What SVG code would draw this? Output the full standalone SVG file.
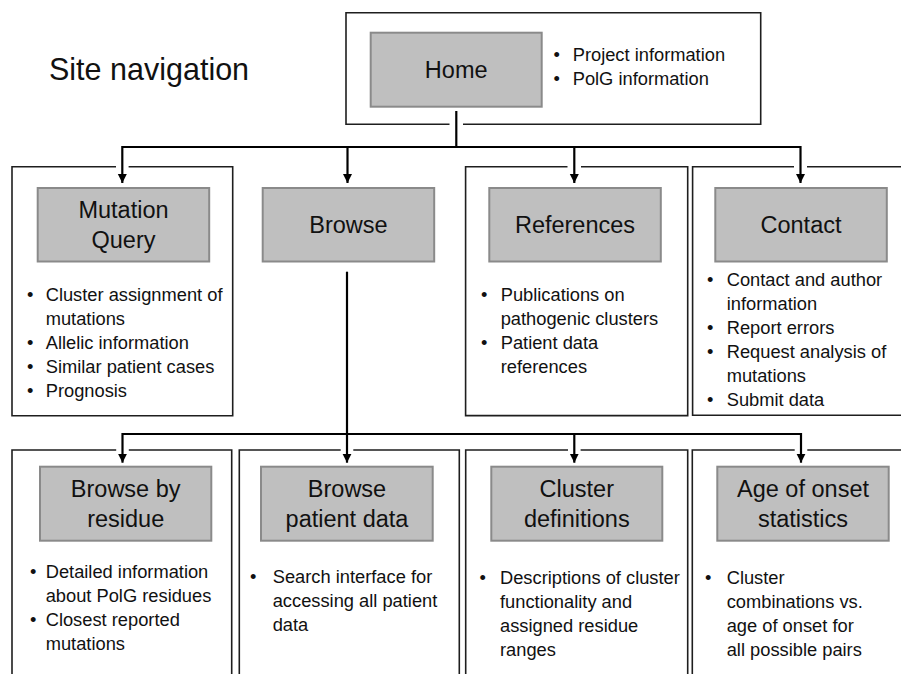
<svg xmlns="http://www.w3.org/2000/svg" width="901" height="674" viewBox="0 0 901 674">
<style>
.frame{fill:none;stroke:#1e1e1e;stroke-width:1.6}
.page{fill:#bfbfbf;stroke:#8a8a8a;stroke-width:2}
.head{font-family:"Liberation Sans",Arial,sans-serif;font-size:23.5px;fill:#111;text-anchor:middle}
.body{font-family:"Liberation Sans",Arial,sans-serif;font-size:18.3px;fill:#111}
.title{font-family:"Liberation Sans",Arial,sans-serif;font-size:30.5px;fill:#111}
.conn{fill:none;stroke:#000;stroke-width:2.2}
</style>
<defs>
<marker id="arr" viewBox="0 0 10 10" refX="10" refY="5" markerWidth="9" markerHeight="10" markerUnits="userSpaceOnUse" orient="auto">
<path d="M0,0 L10,5 L0,10 z" fill="#000"/>
</marker>
</defs>
<rect width="901" height="674" fill="#fff"/>
<text class="title" x="49" y="80">Site navigation</text>

<g id="home">
<path class="frame" d="M449.5,124.3 H346 V12.7 H760.7 V124.3 H463"/>
<rect class="page" x="370.7" y="32.7" width="171" height="74"/>
<text class="head" x="456.2" y="78.3">Home</text>
<text class="body"><tspan x="553.5" y="61">•</tspan><tspan x="572.7" y="61">Project information</tspan><tspan x="553.5" y="85">•</tspan><tspan x="572.7" y="85">PolG information</tspan></text>
</g>

<g id="mutation-query">
<path class="frame" d="M116,166.7 H12 V415.7 H232.7 V166.7 H128.6"/>
<rect class="page" x="37.7" y="188" width="171.5" height="73.5"/>
<text class="head"><tspan x="123.5" y="218.3">Mutation</tspan><tspan x="123.5" y="248">Query</tspan></text>
<text class="body"><tspan x="27" y="301">•</tspan><tspan x="45.7" y="301">Cluster assignment of</tspan><tspan x="45.7" y="325">mutations</tspan><tspan x="27" y="349">•</tspan><tspan x="45.7" y="349">Allelic information</tspan><tspan x="27" y="373">•</tspan><tspan x="45.7" y="373">Similar patient cases</tspan><tspan x="27" y="397">•</tspan><tspan x="45.7" y="397">Prognosis</tspan></text>
</g>

<g id="browse">
<rect class="page" x="262.7" y="188" width="171.5" height="73.5"/>
<text class="head" x="348.4" y="233">Browse</text>
</g>

<g id="references">
<path class="frame" d="M567.5,166.7 H465.6 V415.6 H687.7 V166.7 H581"/>
<rect class="page" x="489.3" y="188" width="171.5" height="73.5"/>
<text class="head" x="575" y="232.7">References</text>
<text class="body"><tspan x="481" y="301">•</tspan><tspan x="500.7" y="301">Publications on</tspan><tspan x="500.7" y="325">pathogenic clusters</tspan><tspan x="481" y="349">•</tspan><tspan x="500.7" y="349">Patient data</tspan><tspan x="500.7" y="373">references</tspan></text>
</g>

<g id="contact">
<path class="frame" d="M794,166.7 H692.6 V415.3 H910 M910,166.7 H807"/>
<rect class="page" x="715.3" y="188" width="171.5" height="73.5"/>
<text class="head" x="801" y="232.7">Contact</text>
<text class="body"><tspan x="707" y="286">•</tspan><tspan x="726.7" y="286">Contact and author</tspan><tspan x="726.7" y="310">information</tspan><tspan x="707" y="334">•</tspan><tspan x="726.7" y="334">Report errors</tspan><tspan x="707" y="358">•</tspan><tspan x="726.7" y="358">Request analysis of</tspan><tspan x="726.7" y="382">mutations</tspan><tspan x="707" y="406">•</tspan><tspan x="726.7" y="406">Submit data</tspan></text>
</g>

<g id="browse-by-residue">
<path class="frame" d="M116.2,450 H12 V690 M231.7,690 V450 H128.8"/>
<rect class="page" x="40" y="466.7" width="171.3" height="74"/>
<text class="head"><tspan x="125.7" y="496.7">Browse by</tspan><tspan x="125.7" y="527">residue</tspan></text>
<text class="body"><tspan x="30" y="578">•</tspan><tspan x="45.7" y="578">Detailed information</tspan><tspan x="45.7" y="602">about PolG residues</tspan><tspan x="30" y="626">•</tspan><tspan x="45.7" y="626">Closest reported</tspan><tspan x="45.7" y="650">mutations</tspan></text>
</g>

<g id="browse-patient-data">
<path class="frame" d="M340.7,450 H239.3 V690 M459.3,690 V450 H353.3"/>
<rect class="page" x="261" y="466.7" width="171.7" height="74"/>
<text class="head"><tspan x="347" y="496.7">Browse</tspan><tspan x="347" y="527">patient data</tspan></text>
<text class="body"><tspan x="250" y="583">•</tspan><tspan x="272.7" y="583">Search interface for</tspan><tspan x="272.7" y="607">accessing all patient</tspan><tspan x="272.7" y="631">data</tspan></text>
</g>

<g id="cluster-definitions">
<path class="frame" d="M568,450 H465.7 V690 M687.7,690 V450 H580.6"/>
<rect class="page" x="491.3" y="466.7" width="171" height="74"/>
<text class="head"><tspan x="576.8" y="496.7">Cluster</tspan><tspan x="576.8" y="527">definitions</tspan></text>
<text class="body"><tspan x="479.5" y="583.5">•</tspan><tspan x="500" y="583.5">Descriptions of cluster</tspan><tspan x="500" y="607.5">functionality and</tspan><tspan x="500" y="631.5">assigned residue</tspan><tspan x="500" y="655.5">ranges</tspan></text>
</g>

<g id="age-of-onset">
<path class="frame" d="M794.7,450 H692.3 V690 M910,450 H807.3"/>
<rect class="page" x="717.3" y="466.7" width="171.4" height="74"/>
<text class="head"><tspan x="803" y="496.7">Age of onset</tspan><tspan x="803" y="527">statistics</tspan></text>
<text class="body"><tspan x="705" y="583.5">•</tspan><tspan x="726.7" y="583.5">Cluster</tspan><tspan x="726.7" y="607.5">combinations vs.</tspan><tspan x="726.7" y="631.5">age of onset for</tspan><tspan x="726.7" y="655.5">all possible pairs</tspan></text>
</g>

<g id="connectors">
<path class="conn" d="M456.3,111 V147"/>
<path class="conn" d="M122.3,147 H800.5"/>
<path class="conn" d="M122.3,146 V183" marker-end="url(#arr)"/>
<path class="conn" d="M347.5,146 V183" marker-end="url(#arr)"/>
<path class="conn" d="M574.3,146 V183" marker-end="url(#arr)"/>
<path class="conn" d="M800.5,146 V183" marker-end="url(#arr)"/>
<path class="conn" d="M347,271.7 V462.7" marker-end="url(#arr)"/>
<path class="conn" d="M122.5,434 H801"/>
<path class="conn" d="M122.5,433 V462.7" marker-end="url(#arr)"/>
<path class="conn" d="M574.3,433 V462.7" marker-end="url(#arr)"/>
<path class="conn" d="M801,433 V462.7" marker-end="url(#arr)"/>
</g>
</svg>
